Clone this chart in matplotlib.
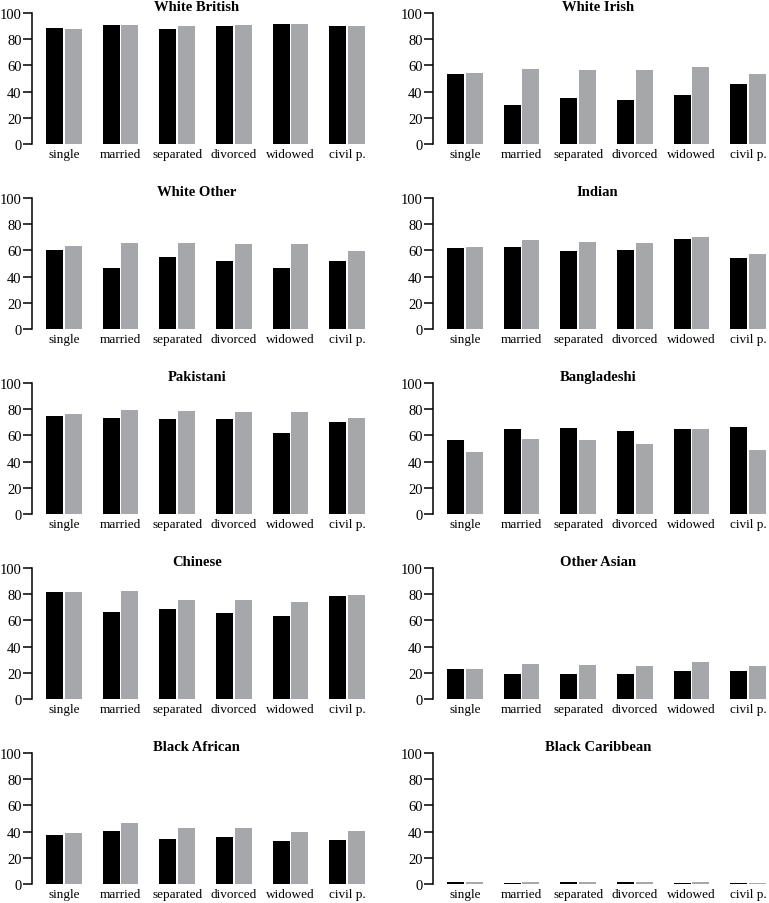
import matplotlib
matplotlib.use('Agg')
import matplotlib.pyplot as plt
import numpy as np

plt.rcParams['font.family'] = ['Liberation Serif', 'DejaVu Serif']

## data ##
statuses = ['single', 'married', 'separated', 'divorced', 'widowed', 'civil p.']
groups = ['White British', 'White Irish', 'White Other', 'Indian', 'Pakistani',
          'Bangladeshi', 'Chinese', 'Other Asian', 'Black African', 'Black Caribbean']

black_vals = {
    'White British':   [88.8, 91.0, 87.8, 89.8, 91.8, 89.8],
    'White Irish':     [53.4, 29.5, 35.4, 33.6, 37.4, 45.5],
    'White Other':     [60.6, 46.6, 54.7, 51.7, 46.6, 51.7],
    'Indian':          [61.6, 62.6, 59.5, 60.6, 68.5, 54.5],
    'Pakistani':       [74.6, 73.5, 72.5, 72.5, 61.6, 70.5],
    'Bangladeshi':     [56.5, 64.6, 65.6, 63.6, 64.6, 66.6],
    'Chinese':         [81.4, 66.4, 68.4, 65.4, 63.4, 78.4],
    'Other Asian':     [23.2, 19.1, 19.1, 19.1, 21.1, 21.1],
    'Black African':   [37.6, 40.6, 34.5, 35.5, 32.5, 33.5],
    'Black Caribbean': [1.6, 0.8, 1.6, 1.6, 0.8, 0.8],
}
grey_vals = {
    'White British':   [87.8, 91.0, 89.8, 91.0, 91.8, 89.8],
    'White Irish':     [54.5, 57.5, 56.5, 56.5, 58.5, 53.4],
    'White Other':     [63.6, 65.6, 65.6, 64.6, 64.6, 59.5],
    'Indian':          [62.6, 67.6, 66.6, 65.6, 70.5, 57.5],
    'Pakistani':       [76.6, 79.6, 78.6, 77.6, 77.6, 73.5],
    'Bangladeshi':     [47.6, 57.5, 56.5, 53.4, 64.6, 48.6],
    'Chinese':         [81.4, 82.4, 75.4, 75.4, 74.4, 79.4],
    'Other Asian':     [23.2, 27.0, 26.0, 25.0, 28.0, 25.0],
    'Black African':   [38.6, 46.5, 42.6, 42.6, 39.6, 40.6],
    'Black Caribbean': [1.6, 1.6, 1.6, 1.6, 1.6, 0.6],
}

## layout (pixels) ##
W, H = 769, 904
fig = plt.figure(figsize=(W / 100, H / 100), dpi=100)
lefts = [32, 433]
tops = [14, 199, 384, 569, 754]
aw, ah = 341, 131

x = np.arange(len(statuses))
bw = 0.3

for i, name in enumerate(groups):
    r, c = divmod(i, 2)
    ax = fig.add_axes([lefts[c] / W, 1 - (tops[r] + ah) / H, aw / W, ah / H])
    ax.bar(x - 0.165, black_vals[name], bw, color='black', linewidth=0)
    ax.bar(x + 0.165, grey_vals[name], bw, color='#a6a7aa', linewidth=0)
    ax.set_xlim(-0.565, 5.46)
    ax.set_ylim(0, 100)
    ax.set_yticks([0, 20, 40, 60, 80, 100])
    ax.set_xticks(x)
    ax.set_xticklabels(statuses)
    for s in ['top', 'right', 'bottom']:
        ax.spines[s].set_visible(False)
    ax.spines['left'].set_linewidth(1.1)
    ax.spines['left'].set_bounds(0, 100)
    ax.tick_params(axis='y', length=6.5, width=1.1, pad=1, labelsize=10.5)
    ax.tick_params(axis='x', length=0, pad=3, labelsize=9.5)
    ax.set_title(name, x=0.483, pad=2, fontsize=10.5, fontweight='bold')

fig.savefig('out.png', dpi=100)
